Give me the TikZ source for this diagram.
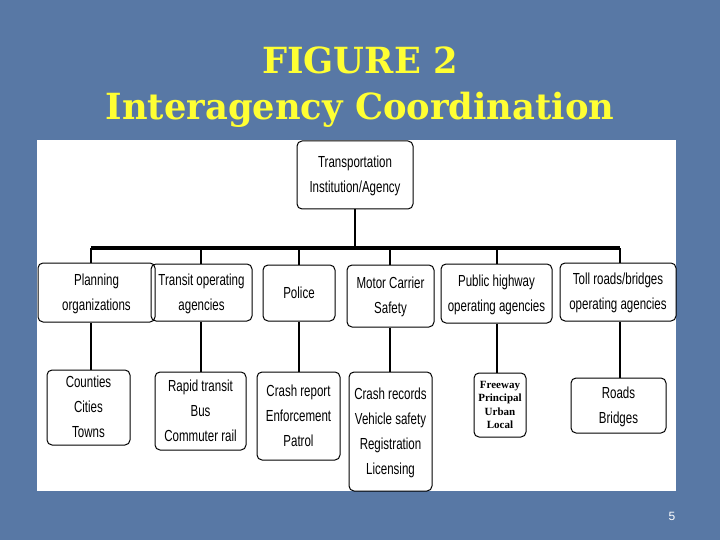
\documentclass[tikz,border=0pt]{standalone}
\usepackage{fontspec}
\setmainfont{Liberation Sans}
\newfontfamily\titlefont{DejaVu Serif}
\newfontfamily\boxserif{Liberation Serif}
\begin{document}
\begin{tikzpicture}[x=1pt,y=-1pt,
 box/.style={draw,line width=1pt,rounded corners=5pt,align=center,font=\fontsize{16}{25}\selectfont,inner sep=0pt},
 link/.style={line width=1.6pt},
 bus/.style={line width=3.5pt}]
\fill[fill={rgb,255:red,88;green,120;blue,165}] (0,0) rectangle (720,540);
\useasboundingbox (0,0) rectangle (720,540);
\fill[white] (37,140) rectangle (676,491);
\node[text={rgb,255:red,255;green,255;blue,51},font=\titlefont\bfseries\fontsize{36}{46}\selectfont,align=center,xscale=0.98] (t) at (360,87) {FIGURE 2\\Interagency Coordination};
\node[font=\fontsize{12}{14}\selectfont,text=white] (pg) at (672,516) {5};
\newcommand{\bx}[6]{\node[box,minimum width=#3-#2,minimum height=#5-#4] (#1) at ({(#2+#3)/2},{(#4+#5)/2}) {\scalebox{0.72}[1]{\begin{tabular}{@{}c@{}}#6\end{tabular}}};}
\bx{top}{297}{413}{141}{209}{Transportation\\Institution/Agency}
\bx{a}{38}{155}{263}{322}{Planning\\organizations}
\bx{b}{151}{252}{264}{321}{Transit operating\\agencies}
\bx{c}{263}{335}{265}{321}{Police}
\bx{d}{347}{434}{265}{327}{Motor Carrier\\Safety}
\bx{e}{441}{552}{264}{323}{Public highway\\operating agencies}
\bx{f}{560}{676}{263}{321}{Toll roads/bridges\\operating agencies}
\bx{a2}{47}{130}{372}{443}{Counties\\Cities\\Towns}
\bx{b2}{155}{246}{372}{450}{Rapid transit\\Bus\\Commuter rail}
\bx{c2}{257}{340}{372}{460}{Crash report\\Enforcement\\Patrol}
\bx{d2}{349}{432}{372}{491}{Crash records\\Vehicle safety\\Registration\\Licensing}
\node[draw,line width=1pt,rounded corners=5pt,minimum width=52,minimum height=64,align=center,inner sep=0pt,font=\boxserif\bfseries\fontsize{11}{13.5}\selectfont] (e2) at (500,405) {Freeway\\Principal\\Urban\\Local};
\bx{f2}{571}{666}{378}{433}{Roads\\Bridges}
\coordinate (j) at (355,248);
\draw[link] (top) -- (j);
\draw[bus] (91,248) -- (620,248);
\foreach \n/\x in {a/91,b/201,c/299,d/390,e/497,f/620}{\draw[link] (\x,248) -- (\n.north -| \x,0);}
\foreach \n/\x in {a/91,b/201,c/299,d/390,e/497,f/620}{\draw[link] (\n.south -| \x,0) -- (\n2.north -| \x,0);}
\end{tikzpicture}
\end{document}
